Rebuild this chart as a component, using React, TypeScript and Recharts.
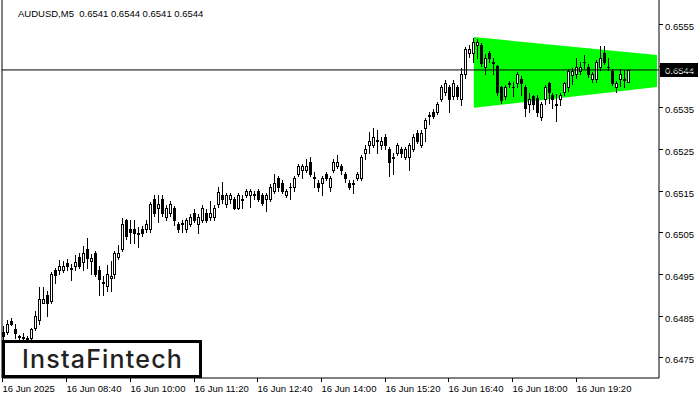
import React from 'react'
import { ComposedChart, Bar, Area, XAxis, YAxis, ReferenceLine } from 'recharts'

// AUDUSD M5, 16 Jun 2025 from 07:20
const opens = [
  0.6481, 0.6481, 0.64838, 0.64818, 0.648, 0.64798, 0.64797, 0.64796, 0.6482, 0.6484,
  0.64881, 0.649, 0.64885, 0.6496, 0.6496, 0.6496, 0.64977, 0.64965, 0.6497, 0.64991,
  0.64979, 0.6501, 0.6498, 0.65001, 0.6496, 0.6493, 0.6492, 0.6494, 0.6495, 0.64991,
  0.6501, 0.6508, 0.65058, 0.65058, 0.65049, 0.65058, 0.65058, 0.65058, 0.6513, 0.65109,
  0.6513, 0.65087, 0.65097, 0.65109, 0.6507, 0.6507, 0.65058, 0.6507, 0.65097, 0.6507,
  0.6508, 0.65097, 0.65087, 0.65087, 0.65118, 0.6514, 0.65118, 0.6513, 0.6513, 0.65109,
  0.6513, 0.6514, 0.6514, 0.65142, 0.6515, 0.6514, 0.6513, 0.6513, 0.6515, 0.6518,
  0.65169, 0.6514, 0.65158, 0.65159, 0.6519, 0.652, 0.652, 0.6522, 0.65182, 0.65169,
  0.65169, 0.6519, 0.65159, 0.652, 0.6521, 0.6521, 0.6519, 0.65169, 0.65167, 0.6518,
  0.6518, 0.6524, 0.6526, 0.6526, 0.65272, 0.6526, 0.65279, 0.6525, 0.6523, 0.6524,
  0.6525, 0.6523, 0.6523, 0.6525, 0.65289, 0.6526, 0.653, 0.6533, 0.6534, 0.6534,
  0.6537, 0.65387, 0.65399, 0.65378, 0.65399, 0.6537, 0.6543, 0.6548, 0.6548, 0.655,
  0.655, 0.65447, 0.6548, 0.65458, 0.65449, 0.65399, 0.65378, 0.65409, 0.654, 0.65409,
  0.65418, 0.65399, 0.65358, 0.65378, 0.65373, 0.65327, 0.6537, 0.65409, 0.6538, 0.65356,
  0.6537, 0.65387, 0.65399, 0.65428, 0.6543, 0.65438, 0.65458, 0.65447, 0.65418, 0.65418,
  0.65447, 0.6548, 0.65448, 0.65438, 0.65399, 0.65418, 0.65416, 0.6541,
]
const highs = [
  0.64825, 0.6484, 0.64843, 0.6483, 0.64804, 0.64807, 0.648, 0.6482, 0.6486, 0.64919,
  0.64919, 0.6491, 0.64955, 0.64965, 0.64983, 0.6498, 0.64985, 0.64975, 0.64995, 0.65,
  0.65018, 0.65037, 0.64998, 0.65005, 0.6497, 0.64945, 0.64972, 0.6498, 0.65006, 0.6502,
  0.65085, 0.65083, 0.6508, 0.6508, 0.65063, 0.65065, 0.6508, 0.65122, 0.6514, 0.6514,
  0.6514, 0.65115, 0.65125, 0.65113, 0.65075, 0.6508, 0.65085, 0.65095, 0.65105, 0.65095,
  0.65115, 0.65105, 0.65125, 0.65115, 0.6516, 0.6517, 0.65145, 0.65145, 0.65135, 0.65145,
  0.6514, 0.65155, 0.65155, 0.6515, 0.65155, 0.65145, 0.65145, 0.65165, 0.6519, 0.65185,
  0.65175, 0.65155, 0.65169, 0.65185, 0.65215, 0.65215, 0.65225, 0.6523, 0.65195, 0.65175,
  0.65185, 0.65195, 0.65185, 0.65225, 0.65235, 0.65215, 0.65195, 0.65175, 0.65175, 0.65195,
  0.65235, 0.6526, 0.6529, 0.653, 0.65295, 0.6528, 0.65285, 0.65255, 0.6524, 0.65265,
  0.65255, 0.65255, 0.65265, 0.65285, 0.65295, 0.65295, 0.65325, 0.6534, 0.65345, 0.65363,
  0.65405, 0.65415, 0.65405, 0.65415, 0.65405, 0.65445, 0.65495, 0.655, 0.65516, 0.65514,
  0.65505, 0.65478, 0.65485, 0.65469, 0.65452, 0.65402, 0.65405, 0.65413, 0.6541, 0.65435,
  0.65425, 0.65405, 0.65385, 0.6538, 0.6538, 0.65362, 0.65405, 0.65412, 0.65385, 0.65382,
  0.65385, 0.65412, 0.65442, 0.65445, 0.65468, 0.65458, 0.65475, 0.65455, 0.65435, 0.65465,
  0.65497, 0.65497, 0.65468, 0.65442, 0.65413, 0.65442, 0.6544, 0.6544,
]
const lows = [
  0.6479, 0.64805, 0.64828, 0.64795, 0.6479, 0.64788, 0.6479, 0.6479, 0.64815, 0.6483,
  0.6488, 0.6485, 0.6488, 0.64929, 0.6495, 0.64955, 0.6496, 0.64935, 0.6496, 0.64965,
  0.6496, 0.64965, 0.6495, 0.64945, 0.649, 0.649, 0.6491, 0.6491, 0.6494, 0.64985,
  0.65005, 0.65035, 0.65025, 0.65025, 0.65015, 0.6504, 0.6505, 0.6505, 0.6509, 0.65075,
  0.6509, 0.6508, 0.6509, 0.65068, 0.6505, 0.6505, 0.6505, 0.65065, 0.65075, 0.65048,
  0.65075, 0.65075, 0.6508, 0.6508, 0.6511, 0.6512, 0.6511, 0.6512, 0.65105, 0.65105,
  0.65109, 0.65135, 0.6511, 0.6513, 0.65125, 0.65115, 0.651, 0.65125, 0.65145, 0.6515,
  0.65145, 0.65135, 0.6513, 0.6515, 0.65185, 0.6518, 0.65195, 0.65185, 0.6516, 0.6515,
  0.6514, 0.65175, 0.6515, 0.65195, 0.65205, 0.6519, 0.6517, 0.65155, 0.65145, 0.65175,
  0.65175, 0.65225, 0.6524, 0.65255, 0.6524, 0.6525, 0.6525, 0.65185, 0.6519, 0.65235,
  0.6523, 0.65225, 0.652, 0.65245, 0.65265, 0.65255, 0.6527, 0.6531, 0.65325, 0.65335,
  0.65365, 0.6538, 0.6534, 0.6537, 0.6537, 0.65355, 0.6542, 0.6547, 0.65458, 0.65469,
  0.6545, 0.6543, 0.6546, 0.6543, 0.6538, 0.6536, 0.6537, 0.654, 0.65378, 0.654,
  0.6538, 0.6533, 0.6534, 0.65345, 0.6533, 0.6532, 0.65358, 0.6536, 0.65349, 0.65317,
  0.65355, 0.6538, 0.6539, 0.65406, 0.6542, 0.6543, 0.65445, 0.65423, 0.6541, 0.6541,
  0.6544, 0.65455, 0.6544, 0.65405, 0.65388, 0.65402, 0.65399, 0.6541,
]
const closes = [
  0.648, 0.6483, 0.6483, 0.64809, 0.64799, 0.64796, 0.64792, 0.64818, 0.6485, 0.6489,
  0.6489, 0.64881, 0.6495, 0.64948, 0.6497, 0.6497, 0.64968, 0.64962, 0.64979, 0.6497,
  0.65001, 0.64989, 0.64989, 0.6495, 0.64938, 0.64928, 0.6495, 0.64945, 0.65001, 0.65001,
  0.6507, 0.6504, 0.6505, 0.65049, 0.65047, 0.65049, 0.6507, 0.65118, 0.65097, 0.65118,
  0.65097, 0.65109, 0.65118, 0.6508, 0.65058, 0.65072, 0.6508, 0.65087, 0.6508, 0.65087,
  0.65109, 0.6508, 0.65097, 0.65109, 0.65147, 0.6513, 0.6514, 0.6514, 0.65109, 0.6514,
  0.65128, 0.6515, 0.6515, 0.6514, 0.6513, 0.6512, 0.6514, 0.65159, 0.65169, 0.65159,
  0.6515, 0.6515, 0.6516, 0.6518, 0.6521, 0.6521, 0.6521, 0.6519, 0.6518, 0.65159,
  0.6518, 0.6518, 0.6518, 0.6522, 0.6522, 0.652, 0.6518, 0.65159, 0.65169, 0.6519,
  0.65231, 0.6525, 0.6527, 0.65279, 0.6527, 0.6527, 0.6526, 0.6522, 0.65228, 0.6526,
  0.6524, 0.6525, 0.6526, 0.65279, 0.6527, 0.65289, 0.6532, 0.65332, 0.6533, 0.65358,
  0.65399, 0.65409, 0.6537, 0.65409, 0.65378, 0.6543, 0.6549, 0.6549, 0.65507, 0.65507,
  0.65457, 0.65469, 0.65469, 0.65456, 0.65387, 0.65368, 0.65399, 0.65407, 0.65398, 0.6543,
  0.65409, 0.65349, 0.6537, 0.65358, 0.6534, 0.65358, 0.65399, 0.65387, 0.6537, 0.65358,
  0.6538, 0.65409, 0.65438, 0.65438, 0.65447, 0.65447, 0.6546, 0.6543, 0.6543, 0.6546,
  0.65469, 0.6546, 0.65446, 0.65409, 0.65409, 0.6543, 0.65418, 0.6544,
]

const tickBars = [0, 16, 32, 48, 64, 80, 96, 112, 128, 144]
const tickLabels = [
  '16 Jun 2025', '16 Jun 08:40', '16 Jun 10:00', '16 Jun 11:20', '16 Jun 12:40',
  '16 Jun 14:00', '16 Jun 15:20', '16 Jun 16:40', '16 Jun 18:00', '16 Jun 19:20',
]
const priceTicks = [0.6475, 0.6485, 0.6495, 0.6505, 0.6515, 0.6525, 0.6535, 0.6545, 0.6555]

// pennant (triangle) boundaries
const patternBars = [118, 164]
const patternTop = [0.65519, 0.65476]
const patternBottom = [0.65349, 0.65399]

const lastPrice = 0.6544
const header = 'AUDUSD,M5  0.6541 0.6544 0.6541 0.6544'
const totalBars = 165

const data = Array.from({ length: totalBars }, (_, i) => {
  const row: any = { i }
  if (i < opens.length) {
    row.open = opens[i]
    row.high = highs[i]
    row.low = lows[i]
    row.close = closes[i]
    row.range = [lows[i], highs[i]]
  }
  const k = patternBars.indexOf(i)
  if (k >= 0) row.pattern = [patternBottom[k], patternTop[k]]
  return row
})

const font = '"Liberation Sans", Arial, sans-serif'

const Candle = (props: any) => {
  const { x, y, width, height, payload } = props
  if (!payload || payload.open == null) return null
  const { open, high, low, close } = payload
  const top = Math.min(y, y + height)
  const h = Math.abs(height)
  const py = (p: number) => top + ((high - p) / (high - low)) * h
  const cx = Math.floor(x + width / 2) + 0.5
  const bTop = Math.round(py(Math.max(open, close)))
  const bBot = Math.round(py(Math.min(open, close)))
  const up = close >= open
  return (
    <g shapeRendering="crispEdges">
      <line x1={cx} x2={cx} y1={Math.round(top)} y2={Math.round(top + h) + 1} stroke="#000" />
      {bBot - bTop < 1 ? (
        <line x1={cx - 1.5} x2={cx + 1.5} y1={bTop + 0.5} y2={bTop + 0.5} stroke="#000" />
      ) : (
        <rect x={cx - 1} y={bTop + 0.5} width={2} height={bBot - bTop} fill={up ? '#fff' : '#000'} stroke="#000" />
      )}
    </g>
  )
}

const TimeTick = (props: any) => {
  const { x, y, payload } = props
  const k = tickBars.indexOf(payload.value)
  const tx = Math.floor(x) - 0.5
  return (
    <g>
      <line x1={tx} x2={tx} y1={y} y2={y + 4} stroke="#000" shapeRendering="crispEdges" />
      <text x={tx} y={y + 14} fontSize={9.5} fontFamily={font} fill="#000" textAnchor="start">
        {k >= 0 ? tickLabels[k] : ''}
      </text>
    </g>
  )
}

const PriceTick = (props: any) => {
  const { x, y, payload } = props
  const ty = Math.round(y) + 0.5
  return (
    <g>
      <line x1={x} x2={x + 4} y1={ty} y2={ty} stroke="#000" shapeRendering="crispEdges" />
      <text x={x + 6} y={ty + 5} fontSize={9.5} fontFamily={font} fill="#000">
        {payload.value.toFixed(4)}
      </text>
    </g>
  )
}

const PriceTag = (props: any) => {
  const { viewBox } = props
  if (!viewBox) return null
  const px = viewBox.x + viewBox.width + 1
  const py = Math.round(viewBox.y)
  return (
    <g>
      <rect x={px} y={py - 7} width={38} height={14} fill="#000" />
      <text x={px + 5} y={py + 4} fontSize={9.5} fontFamily={font} fill="#fff">
        {lastPrice.toFixed(4)}
      </text>
    </g>
  )
}

export default function App() {
  return (
    <div style={{ position: 'absolute', left: 0, top: 0, width: 700, height: 400, background: '#fff', overflow: 'hidden' }}>
      <ComposedChart width={700} height={400} data={data} margin={{ top: 0, right: 0, bottom: 0, left: 1 }}>
        <XAxis
          dataKey="i"
          type="category"
          ticks={tickBars}
          interval={0}
          height={22}
          tickSize={0}
          tickMargin={0}
          tickLine={false}
          tick={<TimeTick />}
          axisLine={{ stroke: '#000' }}
        />
        <YAxis yAxisId="l" orientation="left" width={1} domain={[0.647, 0.65608]} type="number" tick={false} tickLine={false} axisLine={{ stroke: '#000' }} allowDataOverflow />
        <YAxis
          yAxisId="p"
          orientation="right"
          width={41}
          type="number"
          domain={[0.647, 0.65608]}
          ticks={priceTicks}
          interval={0}
          tickSize={0}
          tickMargin={0}
          tickLine={false}
          tick={<PriceTick />}
          axisLine={{ stroke: '#000' }}
          allowDataOverflow
        />
        <Area
          yAxisId="p"
          dataKey="pattern"
          type="linear"
          connectNulls
          fill="#00ff00"
          fillOpacity={1}
          stroke="none"
          isAnimationActive={false}
          dot={false}
          activeDot={false}
        />
        <ReferenceLine yAxisId="p" y={lastPrice} stroke="#000" strokeWidth={1} label={<PriceTag />} />
        <Bar yAxisId="p" dataKey="range" barSize={3} shape={<Candle />} isAnimationActive={false} />
      </ComposedChart>
      <svg width={700} height={400} style={{ position: 'absolute', left: 0, top: 0, pointerEvents: 'none' }}>
        <text x={18} y={16.5} fontSize={9.5} fontFamily={font} fill="#000" style={{ whiteSpace: 'pre' }}>
          {header}
        </text>
        <rect x={3.5} y={341.5} width={197} height={35} fill="#fff" stroke="#000" strokeWidth={3} />
        <text x={22} y={368} fontSize={25} fontFamily="Inter, sans-serif" fontWeight={500} fill="#222" letterSpacing={1.2}>
          InstaFintech
        </text>
      </svg>
    </div>
  )
}
